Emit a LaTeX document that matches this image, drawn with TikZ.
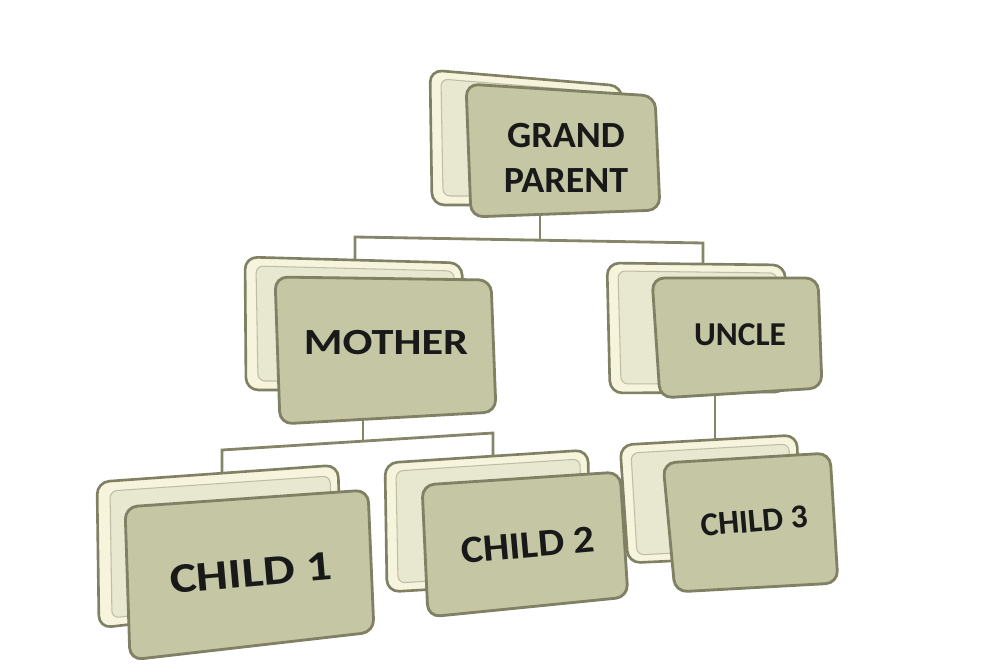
\documentclass[tikz,border=0pt]{standalone}
\usepackage{fontspec}
\setmainfont{Carlito}
\usepackage{tikz}
\definecolor{cardedge}{RGB}{128,128,100}
\definecolor{cardface}{RGB}{197,198,163}
\definecolor{cardback}{RGB}{246,244,220}
\definecolor{cardinner}{RGB}{232,231,207}
\definecolor{linkcol}{RGB}{133,133,106}

\begin{document}
\begin{tikzpicture}[x=0.02cm,y=-0.02cm,
    backcard/.style={draw=cardedge,fill=cardback,line width=1.5pt,rounded corners=7pt},
    innercard/.style={draw=cardedge!40!cardinner,fill=cardinner,line width=0.6pt,rounded corners=4pt},
    frontcard/.style={draw=cardedge,fill=cardface,line width=1.6pt,rounded corners=7pt},
    link/.style={draw=linkcol,line width=1.6pt},
    cardtext/.style={font=\bfseries,text=black!90,align=center,inner sep=0pt}]
    \useasboundingbox (0,0) rectangle (1000,672);

    % grand parent
    \filldraw[backcard] (430,70) -- (622,86) -- (624,205) -- (432,205) -- cycle;
    \filldraw[innercard] (441,79) -- (612,93) -- (614,196) -- (443,196) -- cycle;
    \filldraw[frontcard] (466,84) -- (655,96) -- (660,210) -- (471,217) -- cycle;
    \node (gp) [cardtext,font=\fontsize{21}{26}\selectfont\bfseries,xscale=1.03] at (566,158) {GRAND\\PARENT};
    \coordinate (gp-s) at (540,214);

    % mother
    \filldraw[backcard] (245,257) -- (462,263) -- (464,390) -- (246,390) -- cycle;
    \filldraw[innercard] (256,266) -- (454,271) -- (456,381) -- (258,381) -- cycle;
    \filldraw[frontcard] (275,277) -- (491,280) -- (496,412) -- (280,424) -- cycle;
    \node (mother) [cardtext,font=\fontsize{21}{25}\selectfont\bfseries,xscale=1.2] at (386,343) {MOTHER};
    \coordinate (mother-n) at (355,259);
    \coordinate (mother-s) at (363,419);

    % uncle
    \filldraw[backcard] (607,263) -- (785,265) -- (787,392) -- (610,393) -- cycle;
    \filldraw[innercard] (618,271) -- (777,273) -- (779,383) -- (621,384) -- cycle;
    \filldraw[frontcard] (652,278) -- (818,278) -- (822,388) -- (660,398) -- cycle;
    \node (uncle) [cardtext,font=\fontsize{19}{23}\selectfont\bfseries] at (740,335) {UNCLE};
    \coordinate (uncle-n) at (703,264);
    \coordinate (uncle-s) at (715,394);

    % child 1
    \filldraw[backcard] (97,482) -- (338,465) -- (342,600) -- (99,628) -- cycle;
    \filldraw[innercard] (110,491) -- (330,476) -- (334,592) -- (112,618) -- cycle;
    \filldraw[frontcard] (125,507) -- (368,490) -- (374,632) -- (130,660) -- cycle;
    \node (child1) [cardtext,font=\fontsize{24}{28}\selectfont\bfseries,rotate=5,xscale=1.2] at (251,573) {CHILD 1};
    \coordinate (child1-n) at (222,473);

    % child 2
    \filldraw[backcard] (385,463) -- (588,450) -- (590,580) -- (387,592) -- cycle;
    \filldraw[innercard] (396,471) -- (580,459) -- (582,572) -- (398,583) -- cycle;
    \filldraw[frontcard] (422,485) -- (620,472) -- (628,597) -- (428,617) -- cycle;
    \node (child2) [cardtext,font=\fontsize{22}{26}\selectfont\bfseries,rotate=5,xscale=1.08] at (528,545) {CHILD 2};
    \coordinate (child2-n) at (493,456);

    % child 3
    \filldraw[backcard] (620,445) -- (797,435) -- (800,555) -- (628,563) -- cycle;
    \filldraw[innercard] (631,453) -- (789,444) -- (792,547) -- (637,555) -- cycle;
    \filldraw[frontcard] (663,463) -- (830,453) -- (838,583) -- (675,592) -- cycle;
    \node (child3) [cardtext,font=\fontsize{19}{23}\selectfont\bfseries,rotate=5] at (754,521) {CHILD 3};
    \coordinate (child3-n) at (715,440);

    % connectors
    \draw[link] (mother-n) -- ++(0,-22) -- ++(348,6) -- (uncle-n);
    \draw[link] (gp-s) -- ++(0,26);
    \draw[link] (child1-n) -- ++(0,-23) -- ++(271,-17) -- (child2-n);
    \draw[link] (mother-s) -- ++(0,22);
    \draw[link] (uncle-s) -- (child3-n);
\end{tikzpicture}
\end{document}
